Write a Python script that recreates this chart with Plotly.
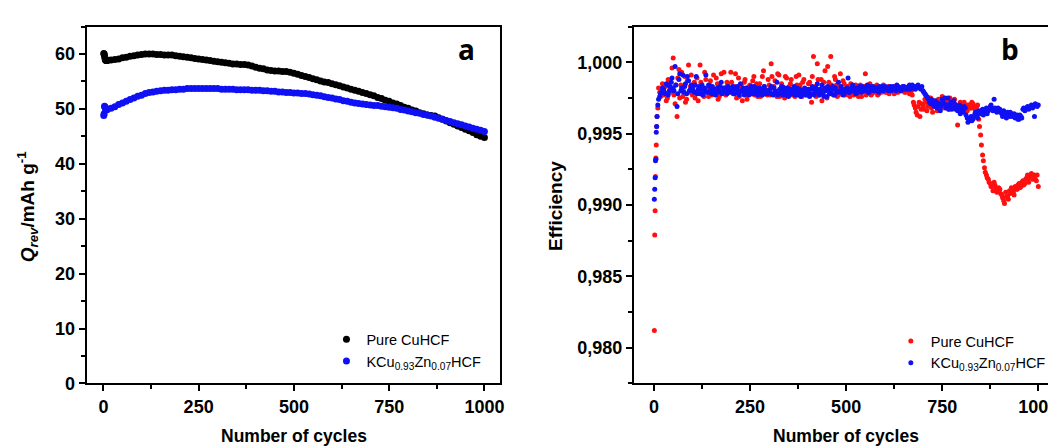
import plotly.graph_objects as go

# ---------------- Panel a: reversible capacity ----------------
cap_early_cycles = [1, 2, 3, 4, 5, 6, 7, 8, 9]
cap_cycles = list(range(10, 1001, 10))

pure_cap_early = [60.1, 60.0, 59.7, 59.3, 59.0, 58.9, 58.8, 58.8, 58.8]
pure_cap = [
    58.8, 58.9, 59.0, 59.1, 59.3, 59.4, 59.6, 59.7, 59.8, 59.9,
    60.0, 60.0, 60.0, 59.9, 59.9, 59.8, 59.8, 59.8, 59.7, 59.6,
    59.5, 59.4, 59.3, 59.2, 59.1, 59.0, 58.9, 58.8, 58.7, 58.6,
    58.5, 58.4, 58.3, 58.2, 58.2, 58.1, 58.1, 58.0, 57.8, 57.6,
    57.4, 57.3, 57.1, 57.0, 56.9, 56.9, 56.8, 56.8, 56.7, 56.5,
    56.3, 56.1, 55.9, 55.7, 55.5, 55.3, 55.1, 54.9, 54.8, 54.6,
    54.4, 54.2, 54.0, 53.8, 53.6, 53.4, 53.2, 53.0, 52.8, 52.6,
    52.4, 52.1, 51.9, 51.6, 51.4, 51.1, 50.9, 50.6, 50.3, 50.1,
    49.8, 49.6, 49.3, 49.1, 48.9, 48.8, 48.7, 48.4, 48.1, 47.8,
    47.5, 47.2, 46.9, 46.6, 46.3, 46.0, 45.7, 45.3, 45.0, 44.8,
]

zn_cap_early = [48.8, 49.1, 50.5, 50.4, 50.2, 50.0, 49.9, 49.9, 49.9]
zn_cap = [
    49.9, 50.1, 50.4, 50.8, 51.1, 51.4, 51.7, 52.0, 52.3, 52.5,
    52.8, 53.0, 53.1, 53.2, 53.3, 53.4, 53.4, 53.5, 53.5, 53.6,
    53.6, 53.7, 53.7, 53.7, 53.7, 53.7, 53.7, 53.7, 53.7, 53.7,
    53.6, 53.6, 53.6, 53.6, 53.5, 53.5, 53.5, 53.5, 53.4, 53.4,
    53.4, 53.3, 53.3, 53.2, 53.2, 53.1, 53.1, 53.0, 53.0, 52.9,
    52.9, 52.8, 52.8, 52.7, 52.6, 52.5, 52.4, 52.2, 52.1, 52.0,
    51.8, 51.7, 51.5, 51.4, 51.2, 51.1, 51.0, 50.9, 50.8, 50.7,
    50.6, 50.6, 50.5, 50.4, 50.3, 50.2, 50.1, 49.9, 49.8, 49.6,
    49.5, 49.3, 49.2, 49.0, 48.9, 48.7, 48.5, 48.3, 48.1, 47.9,
    47.7, 47.5, 47.3, 47.1, 46.9, 46.7, 46.5, 46.3, 46.1, 45.9,
]

# ---------------- Panel b: coulombic efficiency ----------------
eff_early_cycles = [1, 2, 3, 4, 5, 6, 7, 8]

pure_eff_early = [0.9812, 0.9879, 0.9896, 0.9920, 0.9933, 0.9942, 0.9955, 0.9962]
# cycles 10, 15, 20, ... 1000
pure_eff_a = [
    0.9968, 0.9979, 0.9981, 0.9977, 0.9983, 0.9975, 0.9986, 0.9979, 1.0003, 0.9971,
    0.9962, 0.9995, 0.9984, 0.9976, 0.9990, 0.9974, 0.9998, 0.9983,
    0.9977, 0.9986, 0.9979, 0.9973, 0.9998, 0.9982, 0.9976, 0.9988, 0.9980, 0.9984,
    0.9977, 0.9991, 0.9979, 0.9985, 0.9976, 0.9992, 0.9981, 0.9978, 0.9986, 0.9980,
    0.9993, 0.9979, 0.9983, 0.9975, 0.9989, 0.9981, 0.9973, 0.9986, 0.9980, 0.9977,
    0.9984, 0.9978, 0.9990, 0.9982, 0.9976, 0.9985, 0.9979, 0.9994, 0.9981, 0.9977,
    0.9984, 0.9999, 0.9978, 0.9987, 0.9976, 0.9991, 0.9980, 0.9983, 0.9975, 0.9989,
    0.9979, 0.9985, 0.9977, 0.9982, 0.9990, 0.9978, 0.9984, 0.9976, 0.9988, 0.9981,
    0.9979, 0.9986, 0.9972, 1.0004, 0.9983, 0.9999, 0.9977, 0.9988, 0.9981, 0.9994,
    0.9975, 0.9986, 1.0004, 0.9980, 0.9990, 0.9984, 0.9977, 0.9992, 0.9979, 0.9985,
    0.9978, 0.9983, 0.9976, 0.9981, 0.9977, 0.9984, 0.9979, 0.9982, 0.9976, 0.9980,
    0.9992, 0.9978, 0.9983, 0.9977, 0.9981, 0.9979, 0.9984, 0.9978, 0.9982, 0.9980,
    0.9981, 0.9979, 0.9983, 0.9980, 0.9982, 0.9978, 0.9981, 0.9979, 0.9982, 0.9980,
    0.9983, 0.9979, 0.9981, 0.9978, 0.9980, 0.9972, 0.9968, 0.9963, 0.9972, 0.9967,
    0.9970, 0.9974, 0.9966, 0.9971, 0.9975, 0.9965, 0.9972, 0.9969, 0.9974, 0.9971,
    0.9976, 0.9968, 0.9973, 0.9970, 0.9975, 0.9969, 0.9972, 0.9967, 0.9956, 0.9970,
    0.9971, 0.9967, 0.9969, 0.9966, 0.9970, 0.9968, 0.9971, 0.9967, 0.9969, 0.9960,
    0.9949, 0.9935, 0.9926, 0.9921, 0.9918, 0.9915, 0.9913, 0.9916, 0.9912, 0.9911,
    0.9911, 0.9907, 0.9903, 0.9909, 0.9906, 0.9910, 0.9912, 0.9909, 0.9913, 0.9911,
    0.9915, 0.9913, 0.9917, 0.9915, 0.9919, 0.9916, 0.9920, 0.9918, 0.9921, 0.9917,
    0.9913,
]
# cycles 12, 17, 22, ... 997
pure_eff_b = [
    0.9982, 0.9976, 0.9985, 0.9979, 0.9973, 0.9988, 0.9981, 0.9996, 0.9977, 0.9984,
    0.9989, 0.9975, 0.9993, 0.9980, 0.9972, 0.9987, 0.9979, 0.9991,
    0.9983, 0.9975, 0.9989, 0.9980, 0.9986, 0.9978, 0.9993, 0.9981, 0.9976, 0.9987,
    0.9982, 0.9978, 0.9989, 0.9974, 0.9983, 0.9980, 0.9993, 0.9977, 0.9984, 0.9979,
    0.9986, 0.9978, 0.9992, 0.9981, 0.9976, 0.9984, 0.9979, 0.9988, 0.9974, 0.9983,
    0.9980, 0.9987, 0.9977, 0.9985, 0.9981, 0.9976, 0.9990, 0.9983, 0.9978, 0.9988,
    0.9977, 0.9990, 0.9983, 0.9979, 0.9992, 0.9976, 0.9985, 0.9981, 0.9990, 0.9978,
    0.9983, 0.9988, 0.9980, 0.9976, 0.9984, 0.9991, 0.9979, 0.9986, 0.9981, 0.9977,
    0.9985, 0.9978, 0.9990, 0.9982, 0.9976, 0.9988, 0.9980, 0.9973, 0.9986, 0.9981,
    0.9997, 0.9978, 0.9984, 0.9979, 0.9988, 0.9976, 0.9983, 0.9980, 0.9987, 0.9977,
    0.9983, 0.9977, 0.9985, 0.9980, 0.9978, 0.9982, 0.9976, 0.9984, 0.9979, 0.9983,
    0.9977, 0.9981, 0.9985, 0.9978, 0.9980, 0.9983, 0.9977, 0.9981, 0.9979, 0.9984,
    0.9979, 0.9982, 0.9978, 0.9981, 0.9980, 0.9983, 0.9979, 0.9981, 0.9980, 0.9982,
    0.9979, 0.9981, 0.9980, 0.9982, 0.9977, 0.9970, 0.9965, 0.9969, 0.9962, 0.9971,
    0.9967, 0.9972, 0.9969, 0.9975, 0.9968, 0.9973, 0.9970, 0.9966, 0.9971, 0.9974,
    0.9969, 0.9972, 0.9970, 0.9967, 0.9973, 0.9971, 0.9974, 0.9970, 0.9968, 0.9972,
    0.9969, 0.9972, 0.9967, 0.9970, 0.9968, 0.9972, 0.9969, 0.9966, 0.9970, 0.9955,
    0.9942, 0.9931, 0.9923, 0.9919, 0.9916, 0.9913, 0.9910, 0.9914, 0.9909, 0.9912,
    0.9908, 0.9905, 0.9901, 0.9906, 0.9904, 0.9908, 0.9910, 0.9907, 0.9911, 0.9914,
    0.9912, 0.9916, 0.9914, 0.9918, 0.9921, 0.9919, 0.9922, 0.9920, 0.9918, 0.9921,
]

zn_eff_early = [0.9904, 0.9911, 0.9919, 0.9931, 0.9932, 0.9951, 0.9955, 0.9962]
# cycles 10, 15, 20, ... 1000
zn_eff_a = [
    0.9970, 0.9976, 0.9979, 0.9981, 0.9978, 0.9984, 0.9980, 0.9986, 0.9982, 0.9997,
    0.9969, 0.9988, 0.9980, 0.9991, 0.9983, 0.9978, 0.9987, 0.9981,
    0.9982, 0.9979, 0.9990, 0.9981, 0.9978, 0.9984, 0.9980, 0.9991, 0.9979, 0.9983,
    0.9978, 0.9981, 0.9977, 0.9982, 0.9980, 0.9986, 0.9979, 0.9982, 0.9978, 0.9981,
    0.9980, 0.9983, 0.9978, 0.9981, 0.9979, 0.9985, 0.9980, 0.9977, 0.9982, 0.9979,
    0.9981, 0.9978, 0.9983, 0.9980, 0.9977, 0.9982, 0.9979, 0.9981, 0.9978, 0.9980,
    0.9979, 0.9983, 0.9977, 0.9980, 0.9986, 0.9978, 0.9981, 0.9977, 0.9982, 0.9979,
    0.9976, 0.9981, 0.9978, 0.9983, 0.9979, 0.9977, 0.9981, 0.9978, 0.9980, 0.9977,
    0.9979, 0.9976, 0.9981, 0.9978, 0.9980, 0.9985, 0.9977, 0.9980, 0.9978, 0.9982,
    0.9976, 0.9981, 0.9979, 0.9983, 0.9977, 0.9980, 0.9986, 0.9979, 0.9981, 0.9978,
    0.9980, 0.9989, 0.9979, 0.9982, 0.9980, 0.9978, 0.9981, 0.9983, 0.9979, 0.9982,
    0.9980, 0.9984, 0.9979, 0.9981, 0.9983, 0.9980, 0.9982, 0.9979, 0.9981, 0.9983,
    0.9981, 0.9982, 0.9980, 0.9983, 0.9981, 0.9982, 0.9980, 0.9983, 0.9982, 0.9981,
    0.9983, 0.9982, 0.9981, 0.9984, 0.9982, 0.9983, 0.9981, 0.9983, 0.9982, 0.9981,
    0.9980, 0.9978, 0.9976, 0.9974, 0.9971, 0.9973, 0.9969, 0.9972, 0.9970, 0.9966,
    0.9974, 0.9971, 0.9968, 0.9975, 0.9970, 0.9967, 0.9973, 0.9969, 0.9966, 0.9970,
    0.9968, 0.9965, 0.9968, 0.9961, 0.9959, 0.9962, 0.9960, 0.9964, 0.9963, 0.9966,
    0.9964, 0.9967, 0.9965, 0.9968, 0.9966, 0.9969, 0.9967, 0.9974, 0.9966, 0.9968,
    0.9967, 0.9964, 0.9966, 0.9963, 0.9965, 0.9962, 0.9964, 0.9963, 0.9961, 0.9963,
    0.9960, 0.9962, 0.9967, 0.9966, 0.9968, 0.9967, 0.9969, 0.9968, 0.9962, 0.9970,
    0.9970,
]
# cycles 12, 17, 22, ... 997
zn_eff_b = [
    0.9974, 0.9978, 0.9982, 0.9979, 0.9985, 0.9977, 0.9983, 0.9989, 0.9980, 0.9984,
    0.9978, 0.9992, 0.9982, 0.9979, 0.9985, 0.9990, 0.9980, 0.9984,
    0.9980, 0.9984, 0.9978, 0.9983, 0.9981, 0.9977, 0.9982, 0.9979, 0.9984, 0.9980,
    0.9983, 0.9978, 0.9981, 0.9979, 0.9983, 0.9978, 0.9982, 0.9980, 0.9983, 0.9979,
    0.9982, 0.9978, 0.9981, 0.9983, 0.9977, 0.9980, 0.9982, 0.9979, 0.9981, 0.9977,
    0.9983, 0.9980, 0.9978, 0.9982, 0.9979, 0.9981, 0.9977, 0.9983, 0.9980, 0.9978,
    0.9981, 0.9978, 0.9982, 0.9979, 0.9977, 0.9981, 0.9983, 0.9979, 0.9977, 0.9982,
    0.9980, 0.9978, 0.9981, 0.9977, 0.9982, 0.9979, 0.9976, 0.9980, 0.9982, 0.9979,
    0.9981, 0.9978, 0.9983, 0.9977, 0.9982, 0.9979, 0.9981, 0.9984, 0.9976, 0.9980,
    0.9983, 0.9978, 0.9981, 0.9977, 0.9982, 0.9979, 0.9980, 0.9983, 0.9977, 0.9981,
    0.9982, 0.9979, 0.9981, 0.9984, 0.9980, 0.9982, 0.9979, 0.9981, 0.9983, 0.9980,
    0.9982, 0.9979, 0.9983, 0.9981, 0.9980, 0.9982, 0.9980, 0.9983, 0.9981, 0.9980,
    0.9983, 0.9981, 0.9982, 0.9980, 0.9983, 0.9981, 0.9984, 0.9982, 0.9980, 0.9983,
    0.9981, 0.9982, 0.9983, 0.9981, 0.9984, 0.9982, 0.9983, 0.9984, 0.9982, 0.9983,
    0.9979, 0.9977, 0.9975, 0.9972, 0.9974, 0.9970, 0.9973, 0.9968, 0.9971, 0.9969,
    0.9972, 0.9975, 0.9970, 0.9967, 0.9972, 0.9968, 0.9971, 0.9967, 0.9969, 0.9964,
    0.9966, 0.9969, 0.9963, 0.9958, 0.9961, 0.9959, 0.9962, 0.9965, 0.9961, 0.9964,
    0.9966, 0.9963, 0.9967, 0.9964, 0.9967, 0.9970, 0.9966, 0.9968, 0.9965, 0.9967,
    0.9965, 0.9962, 0.9964, 0.9961, 0.9963, 0.9965, 0.9962, 0.9964, 0.9962, 0.9960,
    0.9963, 0.9961, 0.9968, 0.9967, 0.9969, 0.9968, 0.9970, 0.9969, 0.9971, 0.9969,
]

series_names = ["Pure CuHCF", "KCu<sub>0.93</sub>Zn<sub>0.07</sub>HCF"]
x_tick_vals = [0, 250, 500, 750, 1000]
eff_tick_vals = [0.980, 0.985, 0.990, 0.995, 1.000]
eff_tick_text = ["0,980", "0,985", "0,990", "0,995", "1,000"]


def cyc(start, n):
    return [start + 5 * i for i in range(n)]


BLUE = "#1010F5"
RED = "#FF1010"
FONT = "Liberation Sans"

fig = go.Figure()

fig.add_trace(go.Scatter(
    x=cap_early_cycles + cap_cycles, y=pure_cap_early + pure_cap,
    mode="markers", name=series_names[0],
    marker=dict(color="black", size=7), xaxis="x", yaxis="y", legend="legend"))
fig.add_trace(go.Scatter(
    x=cap_early_cycles + cap_cycles, y=zn_cap_early + zn_cap,
    mode="markers", name=series_names[1],
    marker=dict(color=BLUE, size=7), xaxis="x", yaxis="y", legend="legend"))

fig.add_trace(go.Scatter(
    x=eff_early_cycles + cyc(10, len(pure_eff_a)) + cyc(12, len(pure_eff_b)),
    y=pure_eff_early + pure_eff_a + pure_eff_b,
    mode="markers", name=series_names[0],
    marker=dict(color=RED, size=5), xaxis="x2", yaxis="y2", legend="legend2"))
fig.add_trace(go.Scatter(
    x=eff_early_cycles + cyc(10, len(zn_eff_a)) + cyc(12, len(zn_eff_b)),
    y=zn_eff_early + zn_eff_a + zn_eff_b,
    mode="markers", name=series_names[1],
    marker=dict(color=BLUE, size=5), xaxis="x2", yaxis="y2", legend="legend2"))

tickfont = dict(family=FONT, size=18, color="black", weight="bold")
common = dict(showline=True, linecolor="black", linewidth=2, mirror=True,
              ticks="outside", ticklen=6, tickwidth=2, tickcolor="black",
              showgrid=False, zeroline=False, tickfont=tickfont)
minor_x = dict(ticks="outside", ticklen=4, tickwidth=2, tickcolor="black", dtick=125, tick0=0)

fig.update_layout(
    width=1056, height=446,
    margin=dict(l=0, r=0, t=0, b=0),
    paper_bgcolor="white", plot_bgcolor="white",
    showlegend=True,
    xaxis=dict(domain=[0.0748, 0.4678], range=[-44, 1040], tickvals=x_tick_vals,
               minor=minor_x, anchor="y", **common),
    yaxis=dict(domain=[0.139, 0.9574], range=[0, 65], dtick=10, tick0=0,
               minor=dict(ticks="outside", ticklen=4, tickwidth=2, tickcolor="black", dtick=5, tick0=0),
               anchor="x", **common),
    xaxis2=dict(domain=[0.5956, 0.9953], range=[-52, 1041], tickvals=x_tick_vals,
                minor=minor_x, anchor="y2", **common),
    yaxis2=dict(domain=[0.139, 0.9574], range=[0.9775, 1.0025],
                tickvals=eff_tick_vals, ticktext=eff_tick_text,
                minor=dict(ticks="outside", ticklen=4, tickwidth=2, tickcolor="black",
                           dtick=0.0025, tick0=0.98),
                anchor="x2", **common),
    legend=dict(x=0.303, y=0.277, xanchor="left", yanchor="top",
                bgcolor="rgba(0,0,0,0)", font=dict(family=FONT, size=14.5, color="black"),
                itemclick=False),
    legend2=dict(x=0.840, y=0.273, xanchor="left", yanchor="top",
                 bgcolor="rgba(0,0,0,0)", font=dict(family=FONT, size=14.5, color="black"),
                 itemclick=False),
)

xtitle_font = dict(family=FONT, size=17.5, color="black", weight="bold")
ytitle_font = dict(family=FONT, size=19, color="black", weight="bold")
label_font = dict(family="Open Sans", size=28, color="black", weight="bold")
annotations = [
    dict(text="Number of cycles", x=0.2718, y=0.018, xref="paper", yref="paper",
         xanchor="center", yanchor="middle", showarrow=False, font=xtitle_font),
    dict(text="Number of cycles", x=0.797, y=0.018, xref="paper", yref="paper",
         xanchor="center", yanchor="middle", showarrow=False, font=xtitle_font),
    dict(text="<i>Q</i><sub><i>rev</i></sub>/mAh g<sup>-1</sup>", x=0.018, y=0.545,
         xref="paper", yref="paper", xanchor="center", yanchor="middle",
         textangle=-90, showarrow=False, font=ytitle_font),
    dict(text="Efficiency", x=0.521, y=0.545, xref="paper", yref="paper",
         xanchor="center", yanchor="middle", textangle=-90, showarrow=False, font=ytitle_font),
    dict(text="a", x=0.436, y=0.906, xref="paper", yref="paper",
         xanchor="center", yanchor="middle", showarrow=False, font=label_font),
    dict(text="b", x=0.953, y=0.906, xref="paper", yref="paper",
         xanchor="center", yanchor="middle", showarrow=False, font=label_font),
]
fig.update_layout(annotations=annotations)

fig.write_html("out.html", config={"displayModeBar": False})
